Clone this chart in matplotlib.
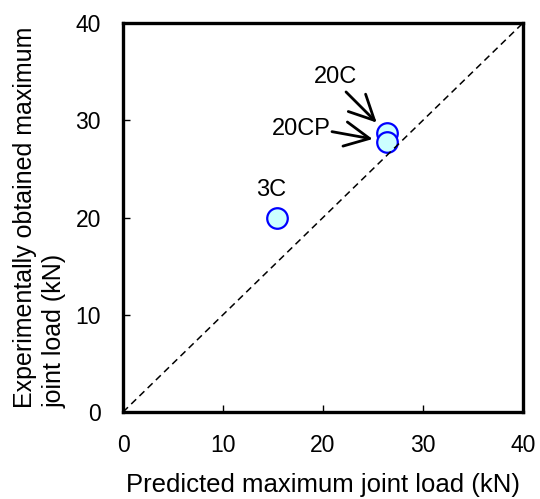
import matplotlib
matplotlib.use('Agg')
from matplotlib import pyplot as plt

# specimen results (kN)
specimens = ['20C', '20CP', '3C']
predicted = [26.4, 26.4, 15.4]
experimental = [28.7, 27.8, 19.9]

# label text positions (data units)
label_x = [21.2, 17.8, 14.8]
label_y = [34.4, 29.1, 22.8]
# arrow tail offsets from each point (points), None = no arrow
arrow_from = [(-29.5, 29.5), (-39.6, 7.2), None]

ticks = [0, 10, 20, 30, 40]

plt.rcParams['font.family'] = ['Liberation Sans', 'DejaVu Sans']

fig = plt.figure(figsize=(5.40, 4.99), dpi=100)
ax = fig.add_axes([0.2278, 0.1743, 0.7407, 0.7796])

# 1:1 reference line
line, = ax.plot([ticks[0], ticks[-1]], [ticks[0], ticks[-1]], color='black', linewidth=1.1,
                linestyle='--', zorder=4)
line.set_dashes([4.5, 3])

for i in range(len(specimens)):
  ax.plot(predicted[i], experimental[i], marker='o', markersize=14.8, markerfacecolor='#ccffff',
          markeredgecolor='#0000ff', markeredgewidth=1.6, linestyle='none', zorder=3)
  ax.text(label_x[i], label_y[i], specimens[i], ha='center', va='center', fontsize=17)
  if arrow_from[i] is not None:
    ax.annotate('', xy=(predicted[i], experimental[i]), xytext=arrow_from[i],
                textcoords='offset points',
                arrowprops=dict(arrowstyle='->,head_length=0.85,head_width=0.42', color='black',
                                linewidth=2.0, shrinkA=0, shrinkB=10.5, mutation_scale=21))

ax.set_xlim(ticks[0], ticks[-1])
ax.set_ylim(ticks[0], ticks[-1])
ax.set_xticks(ticks)
ax.set_yticks(ticks)
ax.tick_params(direction='in', length=5, width=1, labelsize=16.5)
ax.tick_params(axis='x', pad=16)
ax.tick_params(axis='y', pad=16)
for s in ax.spines.values():
  s.set_linewidth(2.4)

ax.set_xlabel('Predicted maximum joint load (kN)', fontsize=18.5, labelpad=11)
ax.set_ylabel('Experimentally obtained maximum\njoint load (kN)', fontsize=18, labelpad=6,
              multialignment='left', linespacing=1.3)

fig.savefig('out.png', dpi=100)
